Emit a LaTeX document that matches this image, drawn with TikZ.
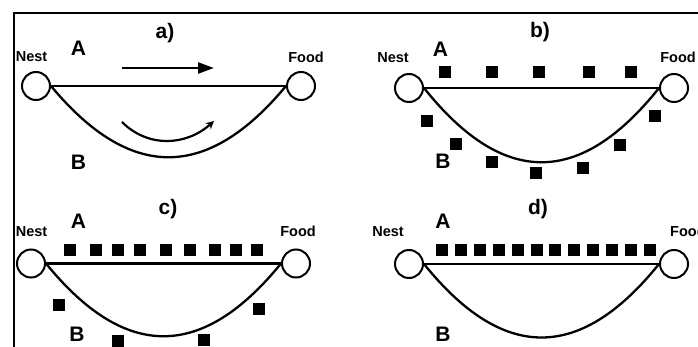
\documentclass[tikz,border=0pt]{standalone}
\usepackage{fontspec}
\setmainfont{Liberation Sans}
\usetikzlibrary{arrows.meta}
\begin{document}
\begin{tikzpicture}[
  x=1pt, y=-1pt,
  site/.style={circle, draw, line width=2pt, minimum size=28pt, inner sep=0pt},
  route/.style={line width=2.3pt},
  sq/.style={fill=black, minimum size=12pt, inner sep=0pt},
  small/.style={inner sep=0pt, font=\fontsize{14.5}{15}\selectfont\bfseries},
  big/.style={inner sep=0pt, font=\fontsize{21}{22}\selectfont\bfseries},
]
% canvas
\fill[white] (0,0) rectangle (698,347);
\clip (0,0) rectangle (698,347);
% outer frame (top and left edges)
\draw[line width=2pt] (14,352) -- (14,13) -- (704,13);

% ---------------- panel a ----------------
\node[site] (na) at (36,86) {};
\node[site] (fa) at (301,86) {};
\draw[route] (na.east) -- (fa.west);
\draw[route] (na.east) .. controls +(79,95) and +(-79,95) .. (fa.west);
\node[small] (na-t) at (31.5,57) {Nest};
\node[small] (fa-t) at (306,57) {Food};
\node[big] (a-A) at (78.5,48.5) {A};
\node[big] (a-B) at (78.5,162.5) {B};
\node[big] (a-t) at (165,33.5) {a)};
\coordinate (ka) at (122,68);
\coordinate (kb) at (214,68);
\draw[line width=2.6pt, -{Triangle[length=16pt,width=11pt]}] (ka) -- (kb);
\coordinate (kc) at (122,122);
\coordinate (kd) at (214,121);
\draw[line width=2.2pt, -{Stealth[length=8pt,width=8pt]}]
  (kc) .. controls (148,148) and (186,146) .. (kd);

% ---------------- panel b ----------------
\node[site] (nb) at (409,88) {};
\node[site] (fb) at (674,88) {};
\draw[route] (nb.east) -- (fb.west);
\draw[route] (nb.east) .. controls +(79,99) and +(-79,99) .. (fb.west);
\node[small] (nb-t) at (393,57.5) {Nest};
\node[small] (fb-t) at (678,57.5) {Food};
\node[big] (b-A) at (440.5,49.5) {A};
\node[big] (b-B) at (443,161.5) {B};
\node[big] (b-t) at (540,32.5) {b)};
\foreach \x [count=\i] in {445,491.5,539,589,631}
  \node[sq] (b-a\i) at (\x,72) {};
\foreach \p [count=\i] in {{427,121},{455.5,144},{492,162.5},{536,173},{583,168},{620,145},{655,116}}
  \node[sq] (b-b\i) at (\p) {};

% ---------------- panel c ----------------
\node[site] (nc) at (31,263.5) {};
\node[site] (fc) at (296,263.5) {};
\draw[route] (nc.east) -- (fc.west);
\draw[route] (nc.east) .. controls +(79,97) and +(-79,97) .. (fc.west);
\node[small] (nc-t) at (31.5,231.5) {Nest};
\node[small] (fc-t) at (298,231.5) {Food};
\node[big] (c-A) at (78.5,221.5) {A};
\node[big] (c-B) at (77,334.5) {B};
\node[big] (c-t) at (168,209) {c)};
\foreach \x [count=\i] in {70,96,117.5,140,166,190,215,236,257}
  \node[sq] (c-a\i) at (\x,250) {};
\foreach \p [count=\i] in {{59,305},{117.5,341},{204,340},{259,309}}
  \node[sq] (c-b\i) at (\p) {};

% ---------------- panel d ----------------
\node[site] (nd) at (409,264) {};
\node[site] (fd) at (674,264) {};
\draw[route] (nd.east) -- (fd.west);
\draw[route] (nd.east) .. controls +(79,98) and +(-79,98) .. (fd.west);
\node[small] (nd-t) at (388,231.5) {Nest};
\node[small, anchor=west] (fd-t) at (670,231.5) {Food};
\node[big] (d-A) at (443,221.5) {A};
\node[big] (d-B) at (443,334.5) {B};
\node[big] (d-t) at (538,209) {d)};
\foreach \i in {0,...,11}
  \node[sq] (d-a\i) at ({442+\i*18.9},250) {};
\end{tikzpicture}
\end{document}
